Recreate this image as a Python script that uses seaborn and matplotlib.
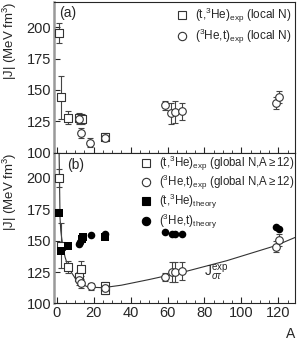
""" Plot |J| versus mass number A, two stacked panels. """
import numpy as np
import pandas as pd
import seaborn as sns
import matplotlib
matplotlib.use("Agg")
import matplotlib.pyplot as plt
from matplotlib.ticker import MultipleLocator
from matplotlib.lines import Line2D

# panel (a): local N
a_sq_A = [1.3, 2.3, 6, 12, 13.5, 26]
a_sq_J = [195, 144, 128, 128, 126.5, 112.5]
a_sq_err = [8, 17, 5, 4, 4, 3]
a_ci_A = [12, 13, 18, 26, 58.5, 62, 64, 68, 118.5, 120.5]
a_ci_J = [127, 115.8, 108, 112, 137.7, 131.5, 132.5, 133, 139.6, 144.3]
a_ci_err = [4, 4, 3.6, 3, 3.5, 8.5, 8.5, 7, 5, 5]

# panel (b): global N, experiment
b_sq_A = [1.3, 2.3, 6, 12, 13, 26, 26]
b_sq_J = [200, 146, 129, 121, 127.5, 113.5, 111]
b_sq_err = [7, 18, 4.5, 4, 6, 3.5, 3.5]
b_ci_A = [12, 13, 18.5, 26, 58.5, 62.5, 64, 68, 118.5, 120.5]
b_ci_J = [118.5, 116, 113.5, 112, 121, 125, 125, 125.8, 145.3, 150.6]
b_ci_err = [3.5, 3.5, 3, 3, 3.5, 8, 8, 7, 4.5, 4.5]

# panel (b): theory
th_sq_A = [1.3, 2.3, 6, 13.5, 14, 26]
th_sq_J = [172, 142, 146, 151.5, 152.5, 152.6]
th_ci_A = [12, 12.5, 18.5, 26, 58.5, 62.5, 64, 68, 118.5, 120.5]
th_ci_J = [147.5, 149, 154.5, 155, 156.6, 155, 155, 155.3, 160.6, 159.3]

# fitted J_sigma_tau curve
curve_A = [1.3, 1.5, 1.8, 2.2, 2.7, 3.5, 4.5, 5.8, 7.2, 10, 12.7, 17, 25,
           35, 50, 70, 92, 118.5, 129]
curve_J = [219, 200, 168, 158, 152, 144, 137, 131, 126.5, 120, 116, 113,
           112.5, 114.5, 119, 125.5, 134, 146, 152.5]

sns.set_style("ticks")
plt.rcParams['font.family'] = ['Liberation Sans', 'DejaVu Sans']
plt.rcParams['mathtext.fontset'] = 'custom'
plt.rcParams['mathtext.rm'] = 'Liberation Sans'
plt.rcParams['mathtext.it'] = 'Liberation Sans:italic'
plt.rcParams['mathtext.sf'] = 'Liberation Sans'
plt.rcParams['font.size'] = 8

fig = plt.figure(figsize=(2.98, 3.44), dpi=100)
ax_a = fig.add_axes([0.181, 0.556, 0.809, 0.438])
ax_b = fig.add_axes([0.181, 0.118, 0.809, 0.438])

ebar = dict(fmt='none', ecolor='#444444', elinewidth=0.8, capsize=2.5,
            capthick=0.8, zorder=2)
open_kw = dict(facecolor='white', edgecolor='#333333', linewidth=0.8, zorder=3)


def open_points(ax, A, J, err, marker):
    df = pd.DataFrame({'A': A, 'J': J})
    ax.errorbar(A, J, yerr=err, **ebar)
    sns.scatterplot(data=df, x='A', y='J', marker=marker, s=30, ax=ax,
                    **open_kw)


# panel (a)
open_points(ax_a, a_sq_A, a_sq_J, a_sq_err, 's')
open_points(ax_a, a_ci_A, a_ci_J, a_ci_err, 'o')

# panel (b)
sns.lineplot(data=pd.DataFrame({'A': curve_A, 'J': curve_J}), x='A', y='J',
             sort=False, estimator=None, color='#333333', linewidth=0.8,
             ax=ax_b, zorder=1)
open_points(ax_b, b_sq_A, b_sq_J, b_sq_err, 's')
open_points(ax_b, b_ci_A, b_ci_J, b_ci_err, 'o')
sns.scatterplot(data=pd.DataFrame({'A': th_sq_A, 'J': th_sq_J}), x='A', y='J',
                marker='s', s=30, color='black', linewidth=0, ax=ax_b,
                zorder=4)
sns.scatterplot(data=pd.DataFrame({'A': th_ci_A, 'J': th_ci_J}), x='A', y='J',
                marker='o', s=30, color='black', linewidth=0, ax=ax_b,
                zorder=4)
ax_b.text(80, 124, r'$\mathrm{J}^{\rm exp}_{\sigma\tau}$', fontsize=10,
          va='center')

for ax in (ax_a, ax_b):
    ax.set_xlim(-1.5, 129)
    ax.set_ylim(100, 220)
    ax.xaxis.set_major_locator(MultipleLocator(20))
    ax.xaxis.set_minor_locator(MultipleLocator(5))
    ax.yaxis.set_major_locator(MultipleLocator(25))
    ax.tick_params(direction='in', length=4, width=0.8, labelsize=10.5,
                   pad=2)
    ax.tick_params(which='minor', direction='in', length=2, width=0.6)
    ax.set_ylabel('|J| (MeV fm$^3$)', fontsize=9.5)
    ax.yaxis.set_label_coords(-0.145, 0.74)
    ax.set_xlabel('')
    for side in ('top', 'right', 'bottom'):
        ax.spines[side].set_linewidth(0.8)
    ax.spines['left'].set_color('#999999')
    ax.spines['left'].set_linewidth(1.8)

ax_a.tick_params(labelbottom=False)
ax_a.text(0.02, 0.975, '(a)', transform=ax_a.transAxes, fontsize=10,
          va='top', ha='left')
ax_b.text(0.055, 0.965, '(b)', transform=ax_b.transAxes, fontsize=10,
          va='top', ha='left')
ax_b.set_xlabel('A', loc='right', fontsize=10, labelpad=5)


def handle(marker, filled):
    return Line2D([], [], linestyle='none', marker=marker, markersize=6,
                  markerfacecolor='black' if filled else 'white',
                  markeredgecolor='black' if filled else '#333333',
                  markeredgewidth=0.8)


ax_a.legend([handle('s', False), handle('o', False)],
            [r'(t,$^3$He)$_{\rm exp}$ (local N)',
             r'($^3$He,t)$_{\rm exp}$ (local N)'],
            loc='upper right', frameon=False, fontsize=8.5, handlelength=1,
            handletextpad=0.6, labelspacing=0.15, borderaxespad=0.1,
            borderpad=0.2)
ax_b.legend([handle('s', False), handle('o', False), handle('s', True),
             handle('o', True)],
            [r'(t,$^3$He)$_{\rm exp}$ (global N,A$\geq$12)',
             r'($^3$He,t)$_{\rm exp}$ (global N,A$\geq$12)',
             r'(t,$^3$He)$_{\rm theory}$',
             r'($^3$He,t)$_{\rm theory}$'],
            loc='upper right', frameon=False, fontsize=8.3, handlelength=1,
            handletextpad=0.6, labelspacing=0.0, borderaxespad=0.0,
            borderpad=0.1)

fig.savefig('out.png', dpi=100)
